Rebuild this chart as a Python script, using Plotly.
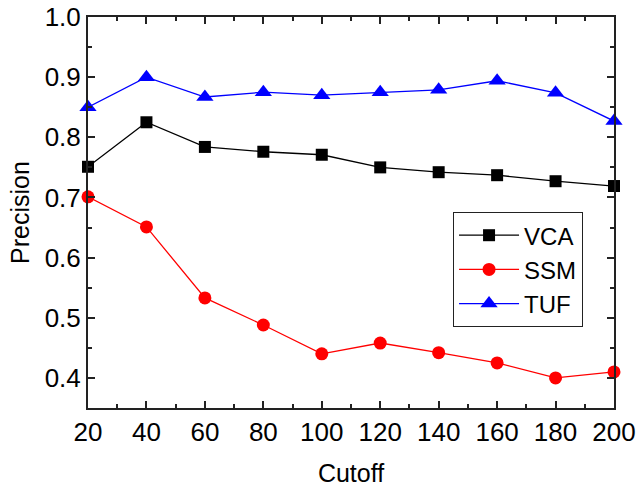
import plotly.graph_objects as go

cutoff = [20, 40, 60, 80, 100, 120, 140, 160, 180, 200]
vca = [0.751, 0.825, 0.784, 0.776, 0.771, 0.750, 0.742, 0.737, 0.727, 0.719]
ssm = [0.701, 0.651, 0.533, 0.488, 0.440, 0.458, 0.442, 0.425, 0.400, 0.410]
tuf = [0.850, 0.900, 0.867, 0.875, 0.870, 0.875, 0.879, 0.894, 0.874, 0.827]

FONT = "Liberation Sans, Arial"

fig = go.Figure()
series = [
    ("VCA", vca, "black", "square", 12),
    ("SSM", ssm, "red", "circle", 13),
    ("TUF", tuf, "blue", "triangle-up", 15),
]
for name, vals, color, sym, sz in series:
    fig.add_trace(go.Scatter(
        x=cutoff, y=vals, name=name, mode="lines+markers",
        line=dict(color=color, width=1.3),
        marker=dict(symbol=sym, size=sz, color=color),
        cliponaxis=False,
    ))

axis_common = dict(
    showline=True, linecolor="#222", linewidth=2, mirror="allticks",
    ticks="inside", ticklen=7, tickwidth=1.5, tickcolor="#222",
    showgrid=False, zeroline=False, automargin=False,
    tickfont=dict(family=FONT, size=26, color="black"),
    minor=dict(ticks="inside", ticklen=4, tickwidth=1.5, tickcolor="#222", showgrid=False),
)

fig.update_xaxes(range=[20, 200], dtick=20, tick0=20,
                 title=dict(text="Cutoff", font=dict(family=FONT, size=25, color="black"), standoff=18),
                 **axis_common)
fig.update_xaxes(minor_dtick=10)
fig.update_yaxes(range=[0.35, 1.0], dtick=0.1, tick0=0.4, tickformat=".1f",
                 title=dict(text="Precision", font=dict(family=FONT, size=25, color="black"), standoff=8),
                 **axis_common)
fig.update_yaxes(minor_dtick=0.05)

fig.update_layout(
    width=638, height=488,
    margin=dict(l=88, r=24, t=17, b=80),
    plot_bgcolor="white", paper_bgcolor="white",
    showlegend=True,
    legend=dict(x=0.694, y=0.501, xanchor="left", yanchor="top",
                bgcolor="white", bordercolor="#222", borderwidth=1,
                font=dict(family=FONT, size=24, color="black"),
                itemwidth=60, tracegroupgap=0),
)
fig.write_html("out.html", config={"displayModeBar": False},
               post_script="document.body.style.margin='0';document.body.style.overflow='hidden';")
